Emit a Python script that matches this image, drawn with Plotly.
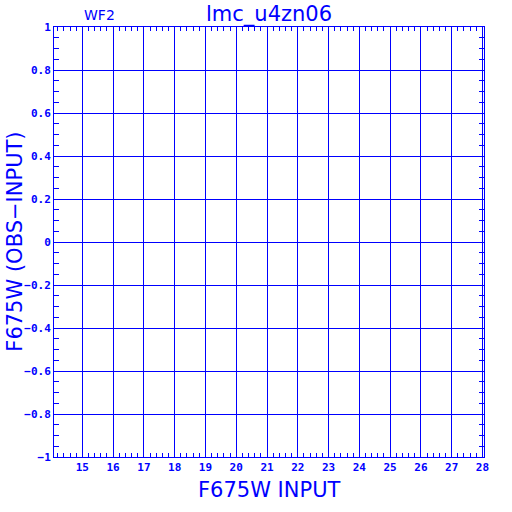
import plotly.graph_objects as go

# Data (the reference panel contains no plotted points)
input_mag = []
obs_minus_input = []

x_tick_vals = [15, 16, 17, 18, 19, 20, 21, 22, 23, 24, 25, 26, 27, 28]
x_tick_text = ["15", "16", "17", "18", "19", "20", "21", "22", "23", "24", "25", "26", "27", "28"]
y_tick_vals = [1, 0.8, 0.6, 0.4, 0.2, 0, -0.2, -0.4, -0.6, -0.8, -1]
y_tick_text = ["1", "0.8", "0.6", "0.4", "0.2", "0", "\u22120.2", "\u22120.4", "\u22120.6", "\u22120.8", "\u22121"]

title_text = "lmc_u4zn06"
chip_text = "WF2"
x_title = "F675W INPUT"
y_title = "F675W (OBS\u2212INPUT)"

BLUE = "#0000FF"

fig = go.Figure()
fig.add_trace(go.Scatter(x=input_mag, y=obs_minus_input, mode="markers",
                         marker=dict(color=BLUE, size=3), showlegend=False))

tick_font = dict(family="DejaVu Sans Mono", size=11, color=BLUE, weight="bold")

fig.update_xaxes(
    range=[14.08, 28.05], tickmode="array", tickvals=x_tick_vals, ticktext=x_tick_text,
    showgrid=True, gridcolor=BLUE, gridwidth=1, zeroline=False,
    showline=True, linecolor=BLUE, linewidth=1, mirror="ticks",
    ticks="inside", ticklen=5, tickcolor=BLUE, tickfont=tick_font,
    minor=dict(tickmode="linear", tick0=0, dtick=0.2, ticks="inside", ticklen=4,
               tickcolor=BLUE, showgrid=False),
)
fig.update_yaxes(
    range=[-1, 1], tickmode="array", tickvals=y_tick_vals, ticktext=y_tick_text,
    showgrid=True, gridcolor=BLUE, gridwidth=1, zeroline=False,
    showline=True, linecolor=BLUE, linewidth=1, mirror="ticks",
    ticks="inside", ticklen=5, tickcolor=BLUE, tickfont=tick_font,
    minor=dict(tickmode="linear", tick0=0, dtick=0.05, ticks="inside", ticklen=5,
               tickcolor=BLUE, showgrid=False),
)

fig.update_layout(
    width=512, height=512,
    margin=dict(l=54, r=28, t=27, b=55),
    paper_bgcolor="white", plot_bgcolor="white",
    showlegend=False,
    annotations=[
        dict(text=title_text, x=0.5, y=1.028, xref="paper", yref="paper",
             showarrow=False, xanchor="center", yanchor="middle",
             font=dict(family="DejaVu Sans", size=21, color=BLUE)),
        dict(text=chip_text, x=0.106, y=1.028, xref="paper", yref="paper",
             showarrow=False, xanchor="center", yanchor="middle",
             font=dict(family="DejaVu Sans", size=14, color=BLUE)),
        dict(text=x_title, x=0.5, y=-0.077, xref="paper", yref="paper",
             showarrow=False, xanchor="center", yanchor="middle",
             font=dict(family="DejaVu Sans", size=21, color=BLUE)),
        dict(text=y_title, x=-0.0914, y=0.5, xref="paper", yref="paper",
             showarrow=False, xanchor="center", yanchor="middle", textangle=-90,
             font=dict(family="DejaVu Sans", size=21, color=BLUE)),
    ],
)

fig.write_html("out.html", config={"displayModeBar": False},
               post_script="document.body.style.margin='0';")
